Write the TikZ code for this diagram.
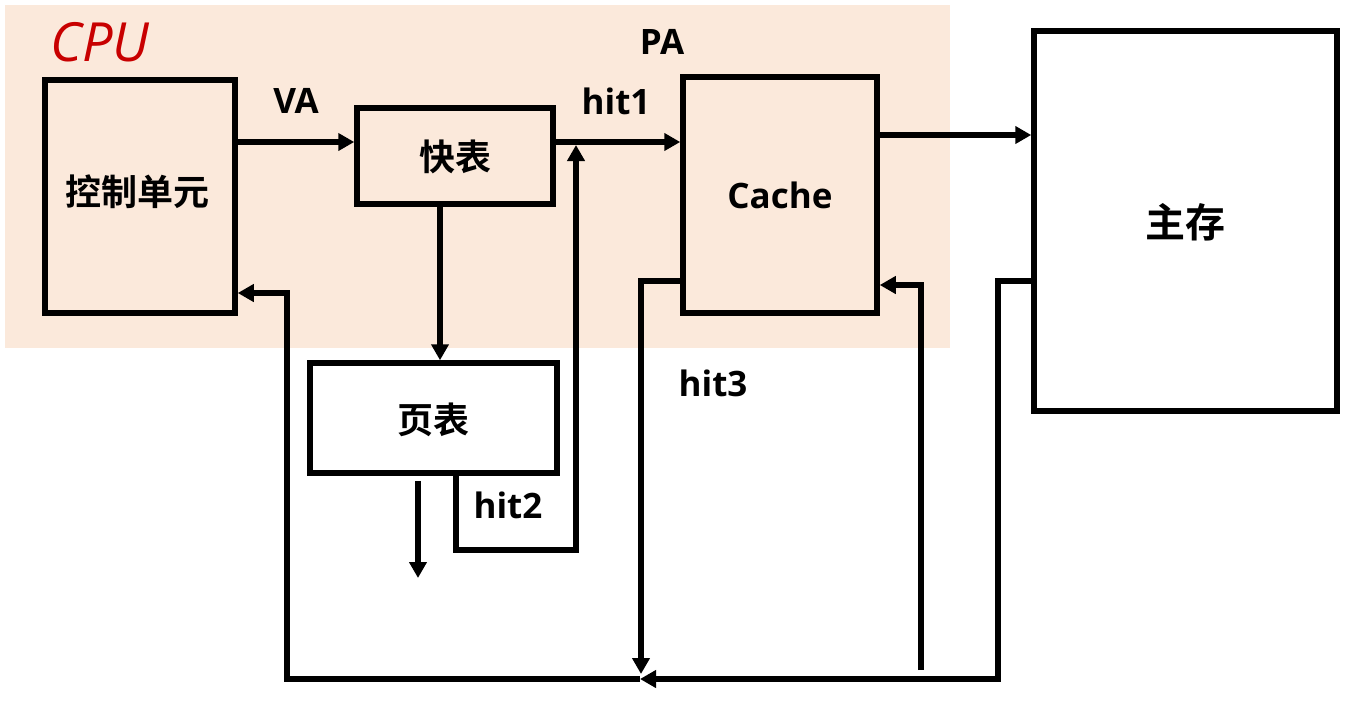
\documentclass[tikz,border=0pt]{standalone}
\usepackage{fontspec}
\setmainfont{Open Sans}
\newfontfamily\cjk{Noto Sans CJK SC}[BoldFont={* Bold}]
\usetikzlibrary{arrows.meta}
\definecolor{cpubg}{RGB}{251,233,219}
\definecolor{cpured}{RGB}{200,0,0}
\tikzset{
  box/.style={draw=black, line width=5.5pt, inner sep=0pt},
  arr/.style={line width=5.5pt, -{Triangle[length=16pt,width=17pt]}},
  cn/.style={font=\cjk\bfseries\fontsize{36}{40}\selectfont},
  lbl/.style={font=\bfseries\fontsize{35}{40}\selectfont},
}
\begin{document}
\begin{tikzpicture}[x=1pt,y=-1pt]
\useasboundingbox (0,0) rectangle (1351,705);
\fill[cpubg] (5,5) rectangle (950,348);
\node[font=\itshape\fontsize{54}{60}\selectfont, text=cpured] (cpu) at (100,42) {CPU};

\node[box, minimum width=190pt, minimum height=233pt] (ctrl) at (140,196.5) {};
\node[cn] (ctrlt) at (137,192) {控制单元};
\node[box, minimum width=196pt, minimum height=96pt] (kb) at (455,156) {};
\node[cn] (kbt) at (455,157) {快表};
\node[box, minimum width=247pt, minimum height=110pt] (pt) at (433.5,418) {};
\node[cn] (ptt) at (433,420) {页表};
\node[box, minimum width=194pt, minimum height=236pt] (cache) at (780,195) {};
\node[lbl] (cachet) at (780,195) {Cache};
\node[box, minimum width=303pt, minimum height=380pt] (mem) at (1185.5,221) {};
\node[cn, font=\cjk\bfseries\fontsize{40}{44}\selectfont] (memt) at (1185,222) {主存};

\node[lbl] (va) at (296,101) {VA};
\node[lbl] (pa) at (662,42) {PA};
\node[lbl] (hit1) at (616,101) {hit1};
\node[lbl] (hit3) at (713,383) {hit3};
\node[lbl] (hit2) at (508,505) {hit2};

\coordinate (j1) at (576,145);
\coordinate (pend) at (418,578);
\coordinate (b1) at (640,679);
\coordinate (b2) at (641,674);
\coordinate (r1) at (921,670);

\draw[arr] (ctrl.east |- 0,142) -- (kb.west |- 0,142);
\draw[arr] (kb.east |- 0,142) -- (cache.west |- 0,142);
\draw[arr] (kb.south -| 440,0) -- (pt.north -| 440,0);
\draw[arr] ([yshift=-5pt]pt.south -| 418,0) -- (pend);
\draw[arr] (pt.south -| 456,0) |- (576,550) -- (j1);
\draw[arr] (cache.east |- 0,135) -- (mem.west |- 0,135);
\draw[arr] (cache.west |- 0,281) -| (b2);
\draw[arr] (b1) -| (287,293) -- (ctrl.east |- 0,293);
\draw[arr] (mem.west |- 0,281) -| (998,679) -- (b1);
\draw[arr] (r1) |- (cache.east |- 0,285);
\end{tikzpicture}
\end{document}
